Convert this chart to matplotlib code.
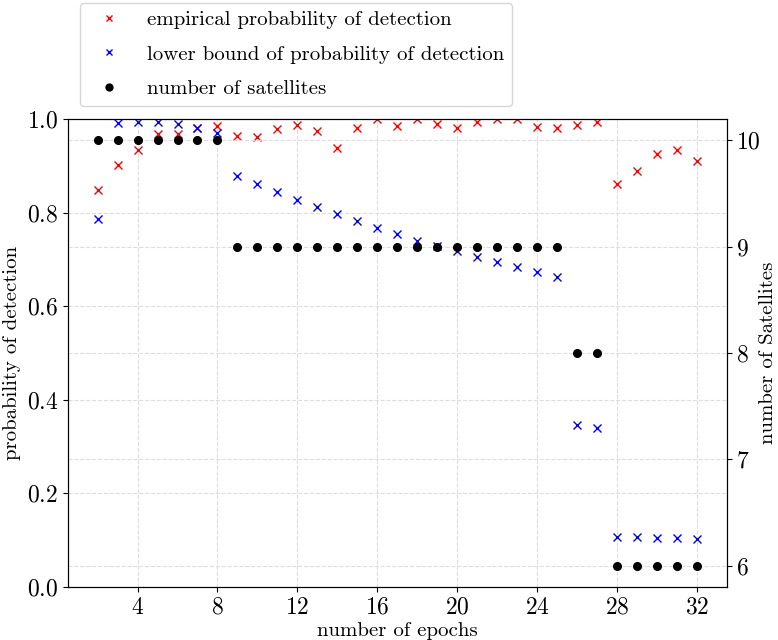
import matplotlib
matplotlib.use("Agg")
import matplotlib.pyplot as plt

plt.rcParams["font.family"] = ["cmr10", "DejaVu Serif"]
plt.rcParams["axes.formatter.use_mathtext"] = True
plt.rcParams["mathtext.fontset"] = "cm"

epochs = list(range(2, 33))

empirical = [0.849, 0.902, 0.934, 0.969, 0.968, 0.980, 0.986, 0.964, 0.962, 0.979,
             0.987, 0.975, 0.939, 0.980, 1.000, 0.986, 1.000, 0.989, 0.980, 0.994,
             1.000, 1.000, 0.982, 0.981, 0.987, 0.994, 0.861, 0.890, 0.925, 0.934,
             0.910]

lower_bound = [0.786, 0.992, 0.994, 0.993, 0.989, 0.981, 0.971, 0.879, 0.861, 0.844,
               0.827, 0.812, 0.796, 0.783, 0.768, 0.755, 0.739, 0.729, 0.717, 0.706,
               0.694, 0.684, 0.673, 0.663, 0.346, 0.339, 0.1075, 0.107, 0.105, 0.1047,
               0.103]

satellites = [10, 10, 10, 10, 10, 10, 10, 9, 9, 9, 9, 9, 9, 9, 9, 9, 9, 9, 9, 9,
              9, 9, 9, 9, 8, 8, 6, 6, 6, 6, 6]


def main():
    fig = plt.figure(figsize=(7.78, 6.4), dpi=100)
    ax = fig.add_axes([0.087, 0.083, 0.847, 0.731])
    ax2 = ax.twinx()

    h1, = ax.plot(epochs, empirical, "x", color="red", markersize=5.5,
                  label="empirical probability of detection")
    h2, = ax.plot(epochs, lower_bound, "x", color="blue", markersize=5.5,
                  label="lower bound of probability of detection")
    h3, = ax2.plot(epochs, satellites, "o", color="black", markersize=5.5,
                   label="number of satellites")

    ax.set_ylim(0, 1)
    ax.set_xticks(range(4, 33, 4))
    ax.set_yticks([0.0, 0.2, 0.4, 0.6, 0.8, 1.0])
    ax2.set_yticks([6, 7, 8, 9, 10])

    ax.grid(True, linestyle="--", color="#dddddd", linewidth=0.8)
    ax2.grid(True, linestyle="--", color="#dddddd", linewidth=0.8)
    ax.set_axisbelow(True)

    ax.tick_params(labelsize=17)
    ax2.tick_params(labelsize=17)
    ax.set_xlabel("number of epochs", fontsize=15, labelpad=2)
    ax.set_ylabel("probability of detection", fontsize=15, labelpad=4)
    ax2.set_ylabel("number of Satellites", fontsize=15)
    ax2.yaxis.set_label_coords(1.049, 0.5)

    fig.legend(handles=[h1, h2, h3], loc="lower left",
               bbox_to_anchor=(0.103, 0.834), borderaxespad=0, fontsize=15,
               labelspacing=0.75, markerscale=0.9)

    fig.savefig("out.png", dpi=100)


if __name__ == "__main__":
    main()
